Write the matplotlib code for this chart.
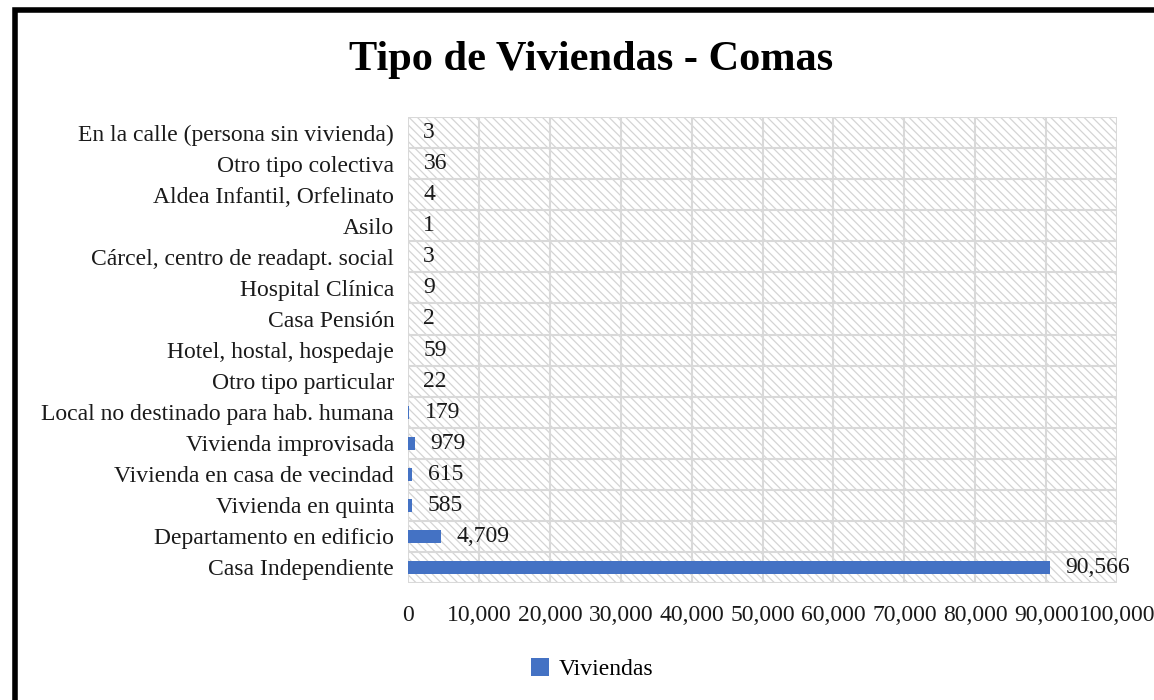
"""Tipo de Viviendas - Comas: horizontal bar chart."""

from matplotlib import pyplot as plt
from matplotlib.patches import Rectangle
import numpy as np

categories = [
    "En la calle (persona sin vivienda)",
    "Otro tipo colectiva",
    "Aldea Infantil, Orfelinato",
    "Asilo",
    "Cárcel, centro de readapt. social",
    "Hospital Clínica",
    "Casa Pensión",
    "Hotel, hostal, hospedaje",
    "Otro tipo particular",
    "Local no destinado para hab. humana",
    "Vivienda improvisada",
    "Vivienda en casa de vecindad",
    "Vivienda en quinta",
    "Departamento en edificio",
    "Casa Independiente",
]
viviendas = [3, 36, 4, 1, 3, 9, 2, 59, 22, 179, 979, 615, 585, 4709, 90566]
x_ticks = [0, 10000, 20000, 30000, 40000, 50000, 60000, 70000, 80000, 90000, 100000]

BLUE = "#4472C4"
GRID = "#d9d9d9"
TXT = "#1a1a1a"

plt.rcParams["font.family"] = ["Liberation Serif", "DejaVu Serif"]
plt.rcParams["hatch.linewidth"] = 0.9

fig = plt.figure(figsize=(11.54, 7.0), dpi=100)
ax = fig.add_axes([0.3536, 0.1671, 0.6144, 0.6657])

# hatched background of the plot area
bg = Rectangle((0, 0), 1, 1, transform=ax.transAxes, facecolor="white",
               edgecolor="#d4d4d4", hatch="\\\\\\\\", linewidth=0, zorder=0)
ax.add_patch(bg)

# reverse so the first category sits on top
y = np.arange(len(categories))[::-1]
ax.barh(y, viviendas, height=0.42, color=BLUE, zorder=3, label="Viviendas")

for yi, v in zip(y, viviendas):
    ax.annotate("{:,}".format(v), xy=(v, yi), xytext=(11, 0),
                textcoords="offset points", va="center", ha="left",
                fontsize=17, color=TXT)

ax.set_xlim(0, 100000)
ax.set_ylim(-0.5, len(categories) - 0.5)
ax.set_xticks(x_ticks)
ax.set_xticklabels(["{:,}".format(t) for t in x_ticks])
ax.set_yticks(y)
ax.set_yticklabels(categories)
ax.set_yticks(np.arange(-0.5, len(categories), 1.0), minor=True)

ax.grid(axis="x", which="major", color=GRID, linewidth=1.5, zorder=1)
ax.grid(axis="y", which="minor", color=GRID, linewidth=1.5, zorder=1)
ax.tick_params(axis="both", which="both", length=0, labelsize=17,
               labelcolor=TXT)
ax.tick_params(axis="y", pad=10)
ax.tick_params(axis="x", pad=16)
ax.set_axisbelow(True)
for s in ax.spines.values():
    s.set_visible(False)

fig.text(0.512, 0.9, "Tipo de Viviendas - Comas", ha="center", va="baseline",
         fontsize=30.5, fontweight="bold")

fig.legend(loc="center", bbox_to_anchor=(0.513, 0.044), frameon=False,
           fontsize=17, handlelength=0.75, handleheight=0.75, handletextpad=0.4)

# thick black frame round the chart (right and bottom edges fall outside)
fig.patches.append(Rectangle((14.5 / 1154, -0.2), 2.0, 1.2 - 9.5 / 700,
                             transform=fig.transFigure, fill=False,
                             edgecolor="black", linewidth=4))

fig.savefig("out.png", dpi=100)
